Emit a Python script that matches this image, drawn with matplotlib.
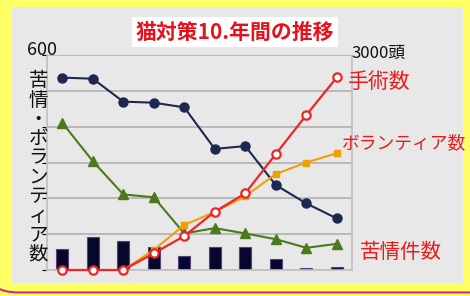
import matplotlib.pyplot as plt
from matplotlib.patches import FancyBboxPatch, Rectangle

plt.rcParams['font.family'] = ['Noto Sans CJK JP', 'DejaVu Sans']

years = list(range(10))
complaints_bar = [58, 91, 81, 63, 39, 65, 63, 31, 6, 8]
navy_line = [537, 534, 470, 467, 454, 338, 346, 237, 186, 144]
green_line = [411, 304, 211, 203, 102, 117, 102, 86, 62, 73]
volunteers = [0, 0, 0, 56, 126, 162, 206, 268, 300, 326]
surgeries = [0, 0, 0, 233, 474, 814, 1070, 1618, 2162, 2688]

fig = plt.figure(figsize=(4.70, 2.96), dpi=100)
fig.patch.set_facecolor('#ffff66')

# outer yellow frame with pink edge, inner gray panel
fig.patches.append(FancyBboxPatch((-0.02, 0.012), 1.1, 1.1, transform=fig.transFigure,
                                  boxstyle='round,pad=0,rounding_size=0.06',
                                  facecolor='#ffff66', edgecolor='#d8287a', lw=1.5, zorder=-3))
fig.patches.append(Rectangle((0.0255, 0.044), 0.96, 0.932, transform=fig.transFigure,
                             facecolor='#e8e8e8', edgecolor='none', zorder=-2))

ax = fig.add_axes([0.1, 0.0878, 0.649, 0.7262])
ax.set_facecolor('none')
ax.set_xlim(-0.5, 9.5)
ax.set_ylim(0, 600)
ax.set_yticks(range(0, 601, 100))
ax.yaxis.grid(True, color='#b4b4b4', lw=1.3)
ax.set_axisbelow(True)
ax.tick_params(left=False, bottom=False, labelleft=False, labelbottom=False)
ax.spines['top'].set_visible(False)
for s in ['left', 'right', 'bottom']:
    ax.spines[s].set_color('#c0c0c0')
    ax.spines[s].set_linewidth(1.2)

ax.bar(years, complaints_bar, width=0.4, color='#07072e', edgecolor='#5a3f80', lw=0.8, zorder=2)
ax.plot(years, navy_line, color='#1c2752', lw=1.5, marker='o', ms=6.5, zorder=3)
ax.plot(years, green_line, color='#4a7a1c', lw=1.5, marker='^', ms=7, zorder=3)
ax.plot(years, volunteers, color='#f0a000', lw=1.5, marker='s', ms=4.5, zorder=3)

ax2 = ax.twinx()
ax2.set_ylim(0, 3000)
ax2.set_xlim(-0.5, 9.5)
ax2.axis('off')
ax2.plot(years, surgeries, color='#f02424', lw=1.6, marker='o', ms=6,
         mfc='white', mec='#f02424', mew=1.6, zorder=4, clip_on=False)

# title
fig.text(0.5, 0.892, '猫対策10.年間の推移', color='#e8101a', fontsize=15, fontweight='bold',
         ha='center', va='center',
         bbox=dict(facecolor='white', edgecolor='none', pad=3))

fig.text(0.057, 0.83, '600', fontsize=13, ha='left', va='center', color='#111111')
fig.text(0.748, 0.82, '3000頭', fontsize=12, ha='left', va='center', color='#111111')

fig.text(0.081, 0.434, '\n'.join('苦情・ボランティア数'), fontsize=14, ha='center', va='center',
         linespacing=0.89, color='#111111')

fig.text(0.74, 0.722, '手術数', color='#ee1a1a', fontsize=15, ha='left', va='center')
fig.text(0.727, 0.517, 'ボランティア数', color='#ee1a1a', fontsize=12.8, ha='left', va='center')
fig.text(0.765, 0.148, '苦情件数', color='#ee1a1a', fontsize=14.8, ha='left', va='center')

fig.savefig('out.png', dpi=100, facecolor=fig.get_facecolor())
